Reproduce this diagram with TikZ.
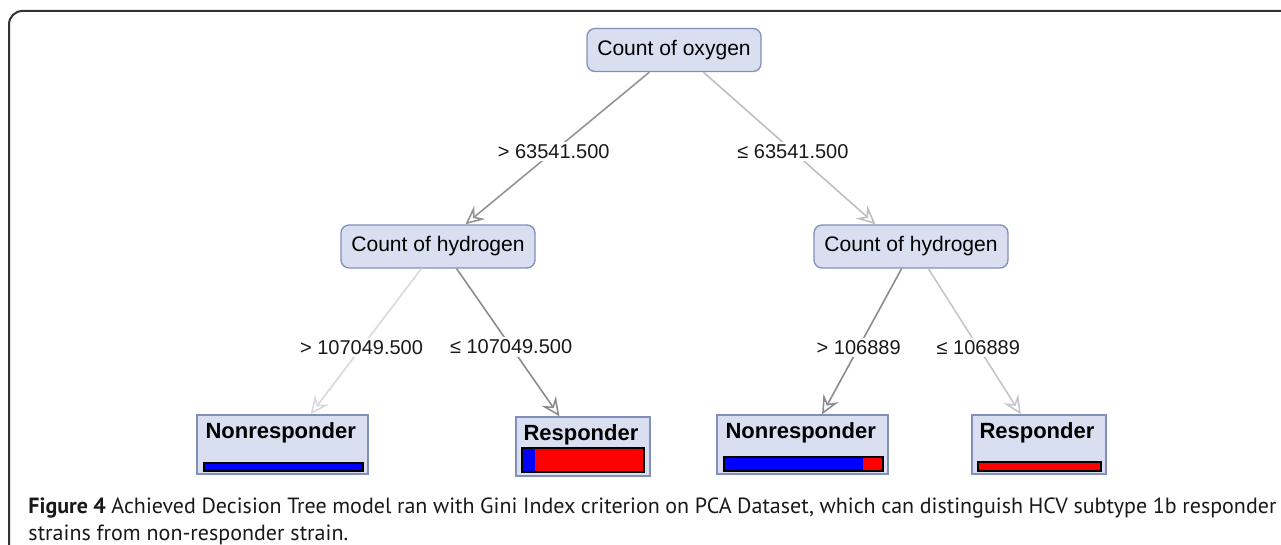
\documentclass[tikz,border=0pt]{standalone}
\usepackage{fontspec}
\setmainfont{Liberation Sans}
\newfontfamily\capfont{PT Sans}
\usetikzlibrary{arrows.meta}

\definecolor{boxfill}{RGB}{217,223,240}
\definecolor{boxline}{RGB}{128,144,184}

\tikzset{every picture/.style={line width=0.75pt}}
\tikzset{
  attr/.style={draw=boxline, fill=boxfill, rounded corners=6pt, line width=1pt,
    minimum height=43*0.75pt, inner sep=0pt, font=\fontsize{15.8}{18}\selectfont},
  leaf/.style={draw=boxline, fill=boxfill, line width=1pt, minimum height=59*0.75pt, inner sep=0pt},
  leaflabel/.style={anchor=base west, inner sep=0pt, font=\fontsize{16.5}{18}\selectfont\bfseries},
  branch/.style={line width=1.2pt, -{Stealth[open,length=14pt,width=13pt,inset=5pt]}},
  cond/.style={fill=white, inner sep=2pt, text=black!90, font=\fontsize{15}{18}\selectfont},
  bar/.style={draw=black, line width=0.8pt},
}

\begin{document}
\begin{tikzpicture}[x=0.75pt,y=0.75pt,yscale=-1,xscale=1]
\useasboundingbox (0,0) rectangle (1281,545);

%Frame
\draw [line width=1.5pt, draw=black!80, rounded corners=10pt] (9,545) -- (9,11) -- (1281,11) ;

%Split nodes
\node [attr, minimum width=174*0.75pt] (root) at (674,50) {Count of oxygen};
\node [attr, minimum width=194*0.75pt] (hl) at (438,246.5) {Count of hydrogen};
\node [attr, minimum width=194*0.75pt] (hr) at (911,246.5) {Count of hydrogen};

%Leaves
\node [leaf, minimum width=171*0.75pt] (nl) at (282.5,444.5) {};
\node [leaf, minimum width=134*0.75pt] (mr) at (583,446.5) {};
\node [leaf, minimum width=171*0.75pt] (nr) at (802.5,444.5) {};
\node [leaf, minimum width=134*0.75pt] (rr) at (1039,444.5) {};

\node [leaflabel] (nlt) at (205,438) {Nonresponder};
\node [leaflabel] (mrt) at (523,440) {Responder};
\node [leaflabel] (nrt) at (725,438) {Nonresponder};
\node [leaflabel] (rrt) at (979,438) {Responder};

%Class bars
\draw [bar, fill=blue] (204,463) rectangle (363,471) ;
\fill [red] (522,448) rectangle (644,472) ;
\fill [blue] (522,448) rectangle (535,472) ;
\draw [bar] (522,448) rectangle (644,472) ;
\fill [red] (724,457) rectangle (883,471) ;
\fill [blue] (724,457) rectangle (863,471) ;
\draw [bar] (724,457) rectangle (883,471) ;
\draw [bar, fill=red] (978,462) rectangle (1101,471) ;

%Branches
\draw [branch, draw=black!42] (root.222) -- node [cond, pos=0.52] (c1) {> 63541.500} (hl.39) ;
\draw [branch, draw=black!25] (root.-37) -- node [cond, pos=0.52] (c2) {≤ 63541.500} (hr.148) ;
\draw [branch, draw=black!15] (hl.233) -- node [cond, pos=0.54] (c3) {> 107049.500} (nl.47) ;
\draw [branch, draw=black!45] (hl.-50) -- node [cond, pos=0.53] (c4) {≤ 107049.500} (mr.128) ;
\draw [branch, draw=black!45] (hr.247) -- node [cond, pos=0.54] (c5) {> 106889} (nr.57) ;
\draw [branch, draw=black!22] (hr.-52) -- node [cond, pos=0.54] (c6) {≤ 106889} (rr.121) ;

%Caption
\node [anchor=north west, inner sep=0pt, text width=1248*0.75pt, align=justify,
  font=\capfont\fontsize{16.5}{20.25}\selectfont, text=black!90] (cap) at (28,497.5)
  {\textbf{Figure 4} Achieved Decision Tree model ran with Gini Index criterion on PCA Dataset, which can distinguish HCV subtype 1b responder\linebreak strains from non-responder strain.};
\end{tikzpicture}
\end{document}
